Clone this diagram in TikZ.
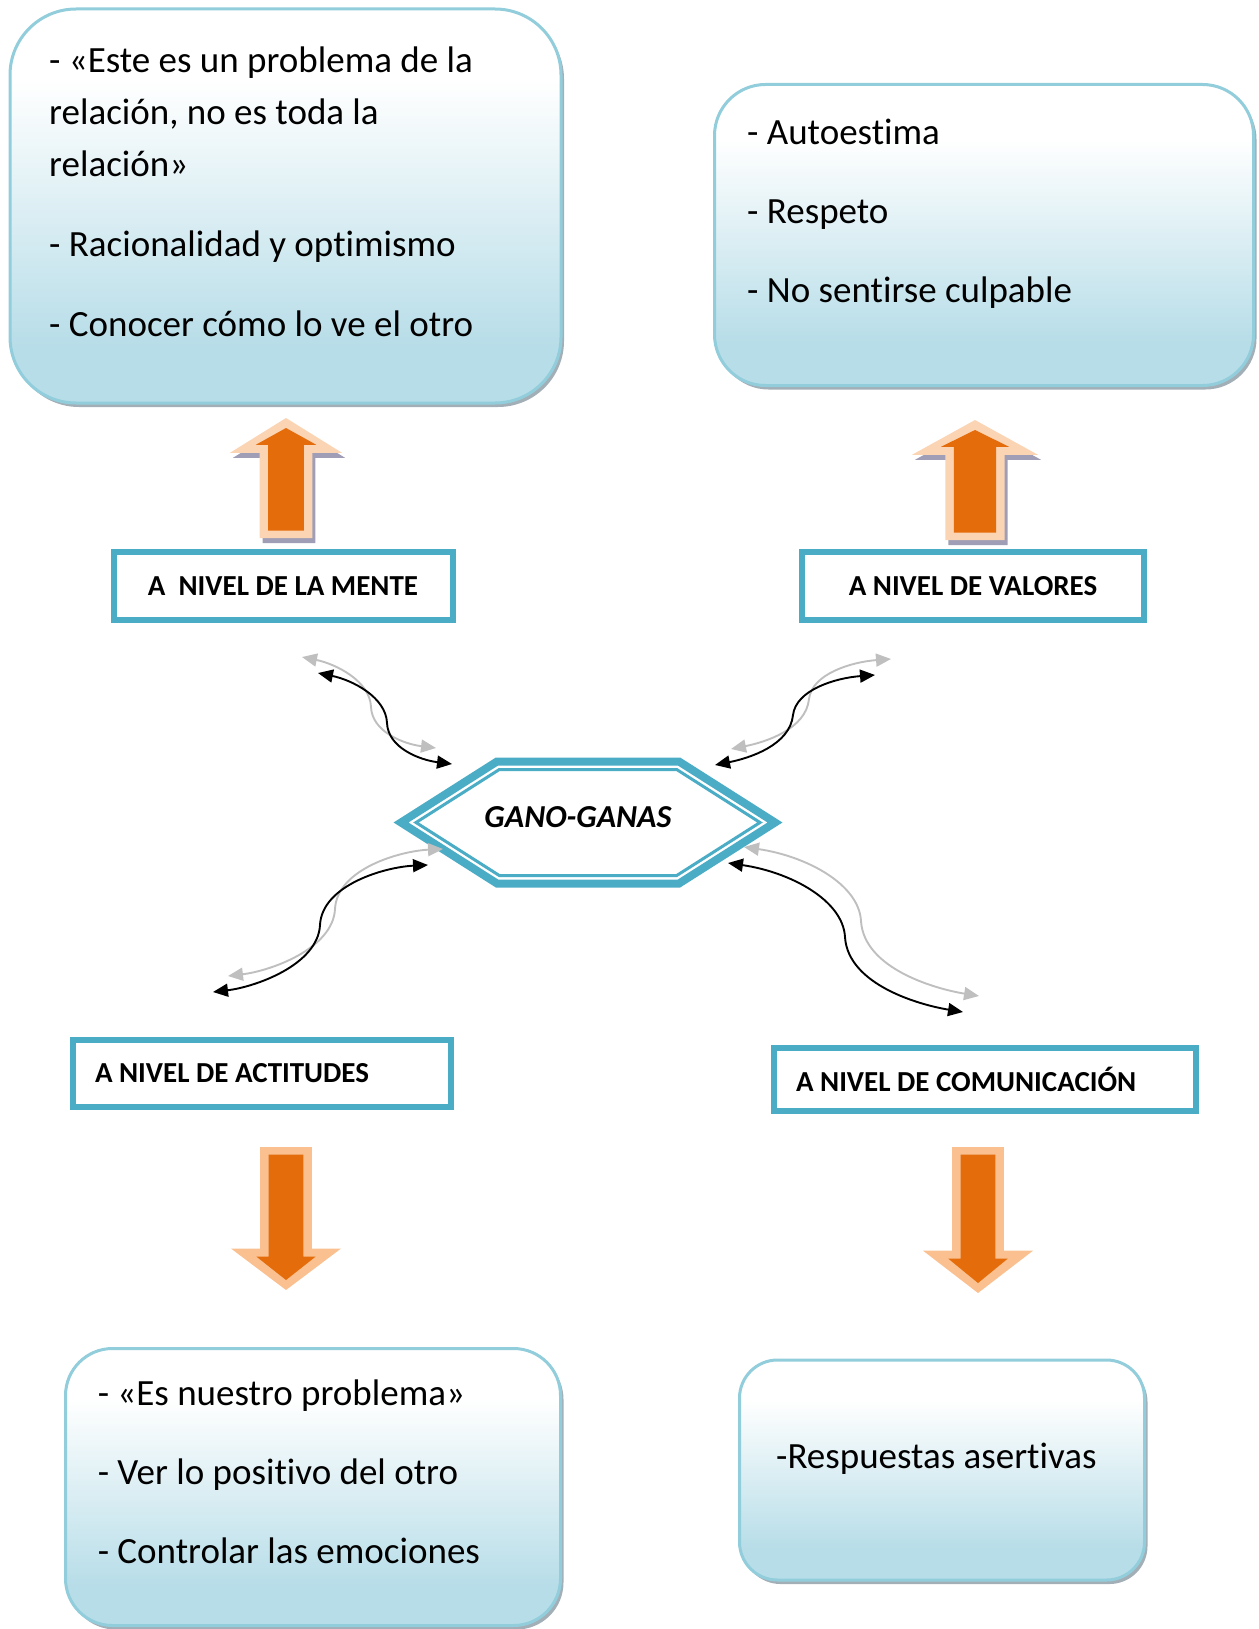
\documentclass[tikz,border=0pt]{standalone}
\usepackage{fontspec}
\setmainfont{Carlito}[Ligatures=NoCommon]
\usepackage{tikz}
\usetikzlibrary{arrows.meta,shadows}
\definecolor{label_blue}{RGB}{75,172,198}
\definecolor{box_edge}{RGB}{146,205,220}
\definecolor{box_blue}{RGB}{183,221,232}
\definecolor{box_shadow}{RGB}{140,155,165}
\definecolor{arrow_orange}{RGB}{228,108,10}
\definecolor{peach_light}{RGB}{251,212,180}
\definecolor{peach_down}{RGB}{250,192,143}
\definecolor{arrow_shade}{RGB}{160,158,182}
\definecolor{curve_grey}{RGB}{191,191,191}
\pgfdeclareverticalshading{boxfade}{100bp}{color(0bp)=(box_blue); color(32bp)=(box_blue); color(66bp)=(white); color(100bp)=(white)}
\newcommand{\blockarrow}[6]{% #1 = x, #2 = y der Spitze, #3 = Laenge, #4 = halbe Kopfbreite, #5 = 1 hoch / -1 runter, #6 = Randfarbe
  \pgfmathsetmacro{\bahd}{0.29*#3}
  \pgfmathsetmacro{\basw}{0.47*#4}
  \pgfmathsetmacro{\bahi}{0.54*#4}
  \begin{scope}[shift={(#1,#2)}, yscale=#5]
    \ifnum#5>0
      \fill[arrow_shade, shift={(3,5)}] (0,0) -- (#4,\bahd) -- (\basw,\bahd) -- (\basw,#3)
        -- (-\basw,#3) -- (-\basw,\bahd) -- (-#4,\bahd) -- cycle;
    \fi
    \fill[#6] (0,0) -- (#4,\bahd) -- (\basw,\bahd) -- (\basw,#3)
      -- (-\basw,#3) -- (-\basw,\bahd) -- (-#4,\bahd) -- cycle;
    \fill[arrow_orange] (0,10) -- (\bahi,\bahd-8) -- (\basw-8.5,\bahd-8) -- (\basw-8.5,#3-7.5)
      -- (-\basw+8.5,#3-7.5) -- (-\basw+8.5,\bahd-8) -- (-\bahi,\bahd-8) -- cycle;
  \end{scope}
}
\tikzset{
  infobox/.style={draw=box_edge, line width=3pt, shading=boxfade, rounded corners=#1,
    drop shadow={shadow xshift=3pt, shadow yshift=-4pt, fill=box_shadow, opacity=0.8}},
  listtext/.style={anchor=base west, align=left, inner sep=0pt, font=\fontsize{37}{52}\selectfont},
  labelbox/.style={draw=label_blue, line width=6pt, fill=white, inner xsep=22pt,
    minimum height=68pt, font=\bfseries\fontsize{29}{35}\selectfont},
  swapcurve/.style={line width=1.9pt, {Triangle[length=15pt,width=13pt]}-{Triangle[length=15pt,width=13pt]}}
}
\begin{document}
\begin{tikzpicture}[x=1pt, y=-1pt]
  \useasboundingbox (0,0) rectangle (1258,1629);

  % Kaesten mit Verlauf
  \node[infobox=66pt, minimum width=551pt, minimum height=394pt] (mindbox) at (285.5,206) {};
  \node[infobox=51pt, minimum width=539pt, minimum height=301pt] (valuebox) at (984,235) {};
  \node[infobox=47pt, minimum width=495pt, minimum height=277pt] (attbox) at (313,1487) {};
  \node[infobox=38pt, minimum width=405pt, minimum height=220pt] (commbox) at (942,1470) {};

  % Grundlinie = letzte Zeile
  \node[listtext] (mindtext) at (49,336.5)
    {- «Este es un problema de la\\ relación, no es toda la\\ relación»\\[28pt]
     - Racionalidad y optimismo\\[28pt] - Conocer cómo lo ve el otro};
  \node[listtext] (valuetext) at (747,302.2)
    {- Autoestima\\[27pt] - Respeto\\[27pt] - No sentirse culpable};
  \node[listtext] (atttext) at (97.6,1563.3)
    {- «Es nuestro problema»\\[27pt] - Ver lo positivo del otro\\[27pt] - Controlar las emociones};
  \node[listtext] (commtext) at (776,1468.5) {-Respuestas asertivas};

  % Blockpfeile
  \blockarrow{286}{418}{120}{56}{1}{peach_light}
  \blockarrow{975}{420}{120}{63}{1}{peach_light}
  \blockarrow{286}{1290}{143}{55}{-1}{peach_down}
  \blockarrow{978}{1293}{146}{55}{-1}{peach_down}

  % Ebenen
  \node[labelbox, minimum width=339pt] (mind) at (283,586) {A~ NIVEL DE LA MENTE};
  \node[labelbox, minimum width=342pt] (values) at (973,586) {A NIVEL DE VALORES};
  \node[labelbox, text width=334pt, align=flush left, minimum height=67pt] (att) at (262,1073.4) {A NIVEL DE ACTITUDES};
  \node[labelbox, text width=378pt, align=flush left, minimum height=63pt] (comm) at (985,1079.3) {A NIVEL DE COMUNICACIÓN};

  % Sechseck
  \coordinate (hexc) at (588,822.5);
  \begin{scope}[shift={(hexc)}]
    \draw[label_blue, line width=8pt] (-187,0) -- (-91,-61) -- (91,-61) -- (187,0) -- (91,61) -- (-91,61) -- cycle;
    \draw[label_blue, line width=3pt] (-172,0) -- (-88.7,-53) -- (88.7,-53) -- (172,0) -- (88.7,53) -- (-88.7,53) -- cycle;
  \end{scope}
  \node[font=\bfseries\itshape\fontsize{32}{38}\selectfont, inner sep=0pt] (gano) at (578,817) {GANO-GANAS};

  % Doppelpfeile
  \coordinate (mindend) at (318,673);
  \coordinate (mindhex) at (452,764);
  \coordinate (valueend) at (875,675);
  \coordinate (valuehex) at (715,765);
  \coordinate (attend) at (213,992);
  \coordinate (atthex) at (428,865);
  \coordinate (commend) at (963,1012);
  \coordinate (commhex) at (728,863);
  \draw[swapcurve, curve_grey, transform canvas={shift={(-16,-16)}}] (mindend)
    .. controls (352,680) and (386,697) .. (387,723) .. controls (388,748) and (420,760) .. (mindhex);
  \draw[swapcurve] (mindend)
    .. controls (352,680) and (386,697) .. (387,723) .. controls (388,748) and (420,760) .. (mindhex);
  \draw[swapcurve, curve_grey, transform canvas={shift={(16,-16)}}] (valuehex)
    .. controls (750,758) and (790,745) .. (793,715) .. controls (796,690) and (835,678) .. (valueend);
  \draw[swapcurve] (valuehex)
    .. controls (750,758) and (790,745) .. (793,715) .. controls (796,690) and (835,678) .. (valueend);
  \draw[swapcurve, curve_grey, transform canvas={shift={(15,-16)}}] (atthex)
    .. controls (385,867) and (322,885) .. (320,925) .. controls (318,965) and (255,987) .. (attend);
  \draw[swapcurve] (atthex)
    .. controls (385,867) and (322,885) .. (320,925) .. controls (318,965) and (255,987) .. (attend);
  \draw[swapcurve, curve_grey, transform canvas={shift={(16,-16)}}] (commhex)
    .. controls (790,872) and (843,900) .. (845,937) .. controls (848,985) and (920,1005) .. (commend);
  \draw[swapcurve] (commhex)
    .. controls (790,872) and (843,900) .. (845,937) .. controls (848,985) and (920,1005) .. (commend);
\end{tikzpicture}
\end{document}
